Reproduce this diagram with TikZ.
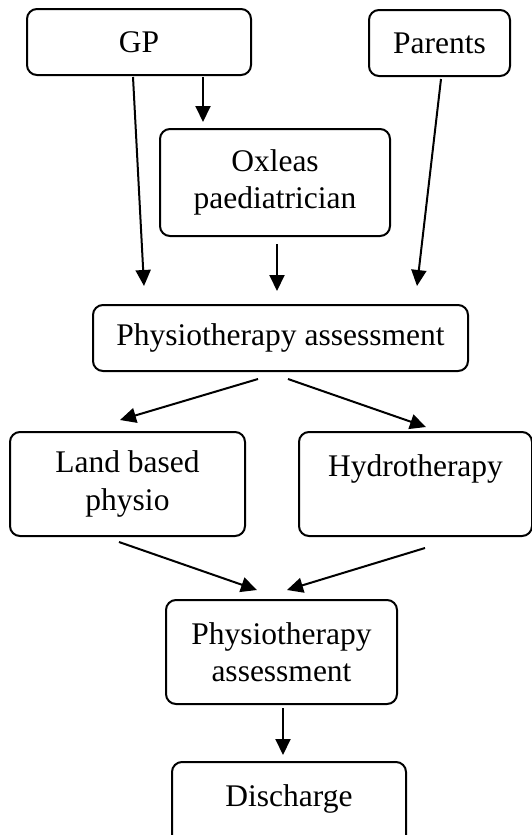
\documentclass[tikz,border=0pt]{standalone}
\usepackage{fontspec}
\setmainfont{Liberation Serif}
\usetikzlibrary{arrows.meta, calc}

\begin{document}
\begin{tikzpicture}[
    x=1pt, y=-1pt,
    >={Triangle[length=16pt,width=15pt]},
    stage/.style={rectangle, rounded corners=10pt, draw=black, line width=2pt, inner sep=0pt, align=center, text=black, font=\fontsize{31.5}{37.5}\selectfont},
    flow/.style={->, line width=2pt}
]
\useasboundingbox (0,0) rectangle (532,835);

\node [stage, minimum width=224pt, minimum height=66pt] (gp) at (139,42) {GP};
\node [stage, minimum width=141pt, minimum height=66pt] (parents) at (439.5,43) {Parents};
\node [stage, minimum width=230pt, minimum height=107pt] (oxleas) at (275,182.5) {Oxleas\\paediatrician};
\node [stage, minimum width=375pt, minimum height=66pt] (assess) at (280.5,338) {Physiotherapy assessment};
\node [stage, minimum width=235pt, minimum height=104pt] (land) at (127.5,484) {Land based\\physio};
\node [stage, minimum width=233pt, minimum height=104pt] (hydro) at (415.5,484) {Hydrotherapy\\\mbox{}};
\node [stage, minimum width=231pt, minimum height=104pt] (review) at (281.5,652) {Physiotherapy\\assessment};
\node [stage, minimum width=234pt, minimum height=104pt] (discharge) at (289,814) {Discharge\\\mbox{}};

\draw[flow] ($(gp.south)+(-6,1)$) -- ($(assess.north)+(-136.5,-18)$);
\draw[flow] ($(gp.south)+(64,1)$) -- ($(oxleas.north)+(-72,-6)$);
\draw[flow] ($(parents.south)+(1.5,2)$) -- ($(assess.north)+(136.5,-18)$);
\draw[flow] ($(oxleas.south)+(2,7)$) -- ($(assess.north)+(-3.5,-13)$);
\draw[flow] ($(assess.south)+(-22.5,7)$) -- ($(land.north)+(-7.5,-11)$);
\draw[flow] ($(assess.south)+(7.5,7)$) -- ($(hydro.north)+(10.5,-4)$);
\draw[flow] ($(land.south)+(-8.5,5)$) -- ($(review.north)+(-24.5,-9)$);
\draw[flow] ($(hydro.south)+(9.5,11)$) -- ($(review.north)+(5.5,-9)$);
\draw[flow] ($(review.south)+(1.5,3)$) -- ($(discharge.north)+(-6,-6)$);
\end{tikzpicture}
\end{document}
